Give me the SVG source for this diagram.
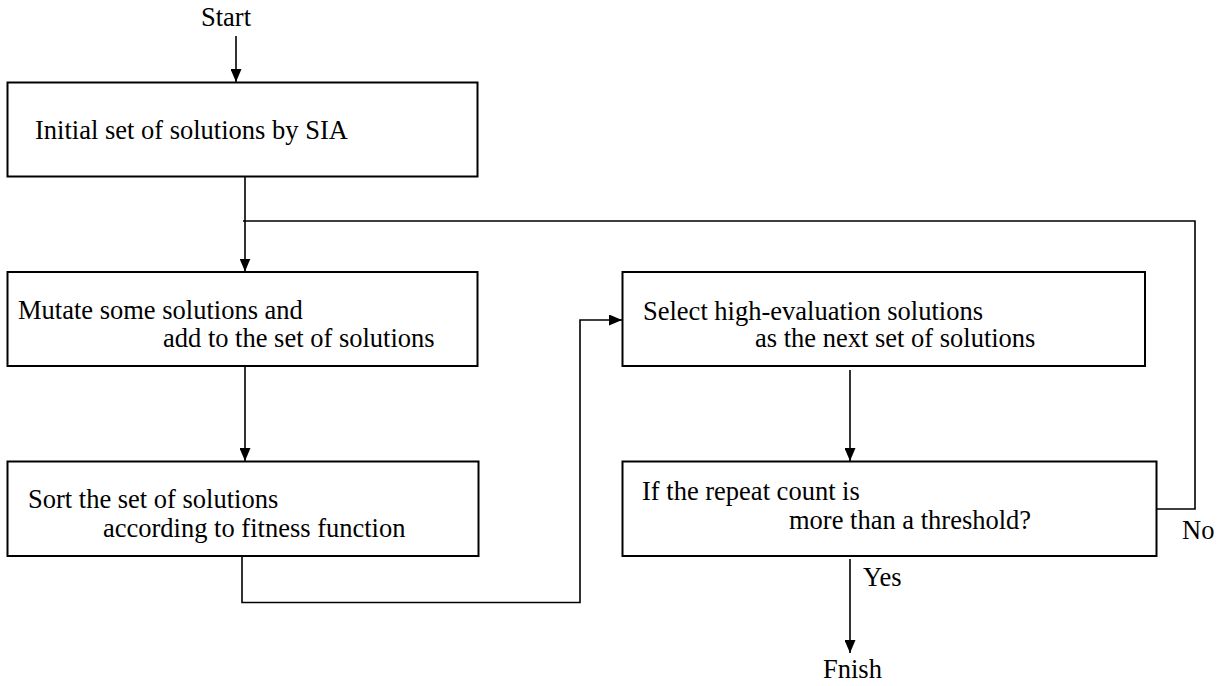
<svg xmlns="http://www.w3.org/2000/svg" width="1221" height="686" viewBox="0 0 1221 686">
  <style>
    .box { fill: #ffffff; stroke: #000000; stroke-width: 2; }
    .wire { fill: none; stroke: #000000; stroke-width: 1.6; }
    .lbl { font-family: "Liberation Serif", "Times New Roman", "DejaVu Serif", "Noto Serif", serif; font-size: 26.5px; fill: #000000; }
  </style>
  <defs>
    <marker id="arrow" viewBox="0 0 13 11" refX="13" refY="5.5" markerWidth="13" markerHeight="11" markerUnits="userSpaceOnUse" orient="auto">
      <path d="M0,0 L13,5.5 L0,11 Z" fill="#000000"/>
    </marker>
  </defs>
  <rect width="1221" height="686" fill="#ffffff"/>

  <!-- connectors -->
  <g id="connectors">
    <line class="wire" x1="236" y1="36" x2="236" y2="82" marker-end="url(#arrow)"/>
    <line class="wire" x1="245" y1="177" x2="245" y2="271.5" marker-end="url(#arrow)"/>
    <line class="wire" x1="245" y1="366" x2="245" y2="461" marker-end="url(#arrow)"/>
    <polyline class="wire" points="242,556 242,602.5 580,602.5 580,320 622,320" marker-end="url(#arrow)"/>
    <line class="wire" x1="850" y1="370" x2="850" y2="461" marker-end="url(#arrow)"/>
    <line class="wire" x1="850" y1="559" x2="850" y2="653" marker-end="url(#arrow)"/>
    <polyline class="wire" points="1156.5,509 1195,509 1195,221 243,221"/>
  </g>

  <!-- terminals -->
  <g id="start">
    <text class="lbl" x="201" y="26">Start</text>
  </g>
  <g id="finish">
    <text class="lbl" x="823" y="678">Fnish</text>
  </g>

  <!-- process steps -->
  <g id="init">
    <rect class="box" x="7.5" y="82.5" width="470" height="94"/>
    <text class="lbl" x="35" y="139">Initial set of solutions by SIA</text>
  </g>
  <g id="mutate">
    <rect class="box" x="7.5" y="272" width="470" height="94"/>
    <text class="lbl" x="18" y="319">Mutate some solutions and</text>
    <text class="lbl" x="163" y="347">add to the set of solutions</text>
  </g>
  <g id="sort">
    <rect class="box" x="7.5" y="461.5" width="471" height="94.5"/>
    <text class="lbl" x="28" y="508">Sort the set of solutions</text>
    <text class="lbl" x="103" y="537">according to fitness function</text>
  </g>
  <g id="select">
    <rect class="box" x="622.5" y="272" width="522.5" height="94"/>
    <text class="lbl" x="643" y="320">Select high-evaluation solutions</text>
    <text class="lbl" x="755" y="347">as the next set of solutions</text>
  </g>
  <g id="check">
    <rect class="box" x="622.5" y="461.5" width="534" height="94.5"/>
    <text class="lbl" x="642" y="500">If the repeat count is</text>
    <text class="lbl" x="789" y="529">more than a threshold?</text>
    <text class="lbl" x="863" y="586">Yes</text>
    <text class="lbl" x="1182" y="539">No</text>
  </g>
</svg>
